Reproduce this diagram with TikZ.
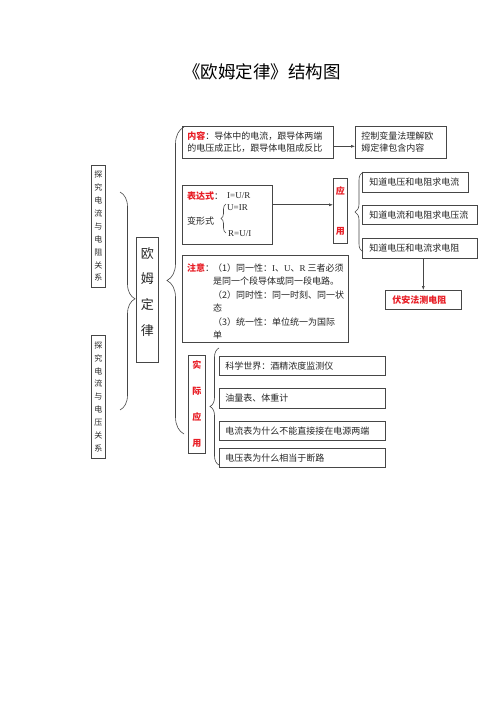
\documentclass[tikz,border=0pt]{standalone}
\usepackage{fontspec}
\setmainfont{Liberation Serif}
\newfontfamily\cjk{Noto Sans CJK SC}
\usetikzlibrary{                          % TikZ libraries
                arrows.meta,              % .
                decorations.pathreplacing}
\definecolor{hong}{RGB}{232,30,38}
\definecolor{xian}{RGB}{70,70,70}
\newcommand{\hongzi}[1]{\textcolor{hong}{\bfseries #1}}

\begin{document}
\begin{tikzpicture}[x=1pt,y=-1pt
                    ]
                % define styles
\tikzset{kuang/.style={draw=xian,
                       line width=0.6pt,
                       anchor=north west,
                       inner sep=0pt,
                       text=black!85,
                       font=\cjk\fontsize{9}{12}\selectfont,
                       },
         wenzi/.style={kuang,
                       align=left,
                       inner xsep=5pt,
                       },
         shu/.style={kuang,
                       align=center,
                       },
         zi/.style={inner sep=0pt,
                       text=black!85,
                       font=\cjk\fontsize{9}{12}\selectfont,
                       },
         jiantou/.style={draw=xian,
                       line width=0.6pt,
                       -{Latex[length=4pt,width=3pt]},
                       },
         kuohao/.style={draw=xian,
                       line width=0.6pt,
                       decorate,
                       decoration={brace,amplitude=#1},
                       }
}

% page
\fill[white] (0,0) rectangle (500,708);
\useasboundingbox (0,0) rectangle (500,708);

% title
\node[zi, text=black, font={\cjk\fontsize{17.5}{20}\selectfont}] (biaoti) at (262,72) {《欧姆定律》结构图};

% left column
\node[shu, minimum width=14pt, minimum height=122pt, font={\cjk\fontsize{8}{12.9}\selectfont}]
    (dianzu) at (91,165) {探\\究\\电\\流\\与\\电\\阻\\关\\系};
\node[shu, minimum width=14pt, minimum height=123pt, font={\cjk\fontsize{8}{12.9}\selectfont}]
    (dianya) at (91,335) {探\\究\\电\\流\\与\\电\\压\\关\\系};
\node[shu, minimum width=22pt, minimum height=125pt, text depth=17pt, font={\cjk\fontsize{13}{25.7}\selectfont}]
    (oumu)   at (136,237) {欧\\姆\\定\\律};

% braces
\draw[kuohao=15pt, decoration={aspect=0.49}] (120,192) -- (120,410);
\draw[kuohao=17pt] (184,434) -- (184,127);

% content
\node[wenzi, minimum height=32pt, text width=141pt] (neirong) at (182,126)
    {\hongzi{内容}：导体中的电流，跟导体两端\\的电压成正比，跟导体电阻成反比};
\node[wenzi, minimum height=32pt, text width=79pt, inner xsep=6pt] (kongzhi) at (355,126)
    {控制变量法理解欧\\姆定律包含内容};
\draw[jiantou] ([yshift=-4pt]neirong.east) -- ([yshift=-4pt]kongzhi.west);

% formula
\node[kuang, minimum width=90pt, minimum height=59pt] (biaoda) at (182,185) {};
\node[zi, anchor=west] (bdsbiao) at (187,196) {\hongzi{表达式}：};
\node[zi, anchor=west, font=\rmfamily\fontsize{9}{11}\selectfont] (gongshi) at (227,196) {I=U/R};
\node[zi, anchor=west] (bianxing) at (187,221) {变形式};
\draw[kuohao=5pt] (226,233) -- (226,204);
\node[zi, anchor=west, font=\rmfamily\fontsize{9}{11}\selectfont] (bian1) at (227,208) {U=IR};
\node[zi, anchor=west, font=\rmfamily\fontsize{9}{11}\selectfont] (bian2) at (228,234) {R=U/I};

\node[shu, minimum width=14pt, minimum height=65pt, text=hong, font={\cjk\bfseries\fontsize{9}{40}\selectfont}]
    (yingyong) at (333,178) {应\\用};
\draw[jiantou] ([yshift=10pt]biaoda.east) -- ([yshift=10pt]biaoda.east -| yingyong.west);
\draw[kuohao=8pt] (363,252) -- (363,172);

\node[wenzi, minimum height=20pt, text width=92pt, inner xsep=7pt]  (zhi1) at (362,172) {知道电压和电阻求电流};
\node[wenzi, minimum height=19pt, text width=101pt, inner xsep=7pt] (zhi2) at (362,205) {知道电流和电阻求电压流};
\node[wenzi, minimum height=20pt, text width=101pt, inner xsep=7pt] (zhi3) at (362,238) {知道电压和电流求电阻};
\node[wenzi, minimum height=19pt, text width=62pt, inner xsep=7pt]  (fuan) at (385,290) {\hongzi{伏安法测电阻}};
\draw[jiantou] (zhi3.south -| fuan.north) -- (fuan.north);

% notes
\node[kuang, minimum width=166pt, minimum height=87pt] (zhuyi) at (182,255) {};
\node[zi, anchor=north west] (zhuyibiao) at (187,263.5) {\hongzi{注意}：};
\node[zi, anchor=north west, align=left, font={\cjk\fontsize{9}{13.4}\selectfont}] (zhuyinei) at (213,263.5)
    {（1）同一性：{\rmfamily I}、{\rmfamily U}、{\rmfamily R} 三者必须\\是同一个段导体或同一段电路。\\（2）同时性：同一时刻、同一状\\态\\（3）统一性：单位统一为国际\\单};

% applications
\node[shu, minimum width=17pt, minimum height=98pt, text=hong, font={\cjk\bfseries\fontsize{9}{26}\selectfont}]
    (shiji) at (188,355) {实\\际\\应\\用};
\draw[kuohao=9pt] (219,465) -- (219,348);

\node[wenzi, minimum height=19pt, text width=154pt, inner xsep=6pt] (ying1) at (219,356) {科学世界：酒精浓度监测仪};
\node[wenzi, minimum height=20pt, text width=154pt, inner xsep=6pt] (ying2) at (219,388) {油量表、体重计};
\node[wenzi, minimum height=19pt, text width=154pt, inner xsep=6pt] (ying3) at (219,421) {电流表为什么不能直接接在电源两端};
\node[wenzi, minimum height=19pt, text width=154pt, inner xsep=6pt] (ying4) at (219,448) {电压表为什么相当于断路};

\end{tikzpicture}
\end{document}
